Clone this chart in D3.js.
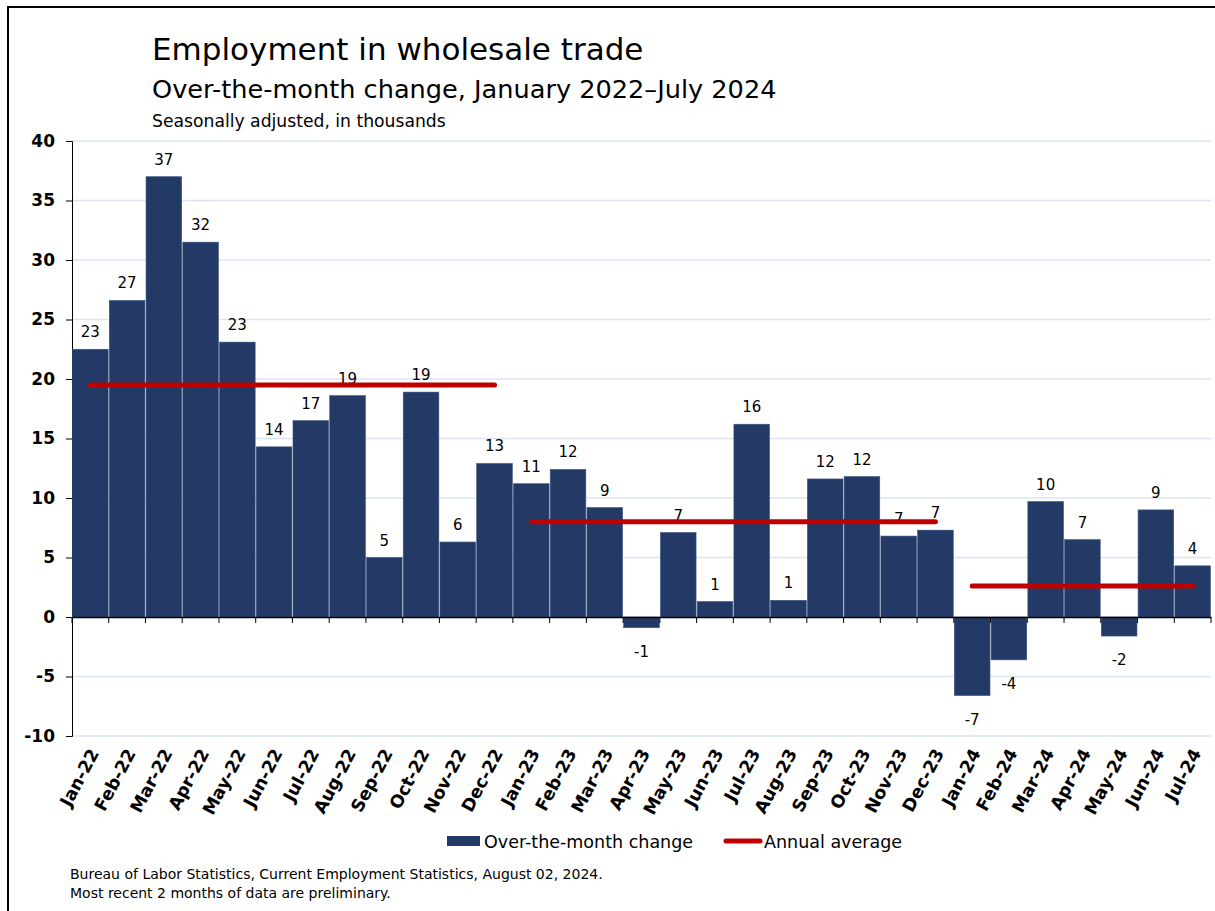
<!DOCTYPE html>
<html>
<head>
<meta charset="utf-8">
<script src="https://cdn.jsdelivr.net/npm/d3@7"></script>
<style>
  body { margin: 0; background: #fff; }
  svg { display: block; font-family: "DejaVu Sans", Verdana, sans-serif; }
  .ytick text { font-weight: bold; font-size: 17px; fill: #000; }
  .xtick text { font-weight: bold; font-size: 17.5px; fill: #000; }
  .val { font-size: 15px; fill: #000; }
</style>
</head>
<body>
<div class="container"></div>
<script>
// Data (thousands, seasonally adjusted)
var months = ["Jan-22", "Feb-22", "Mar-22", "Apr-22", "May-22", "Jun-22", "Jul-22", "Aug-22",
  "Sep-22", "Oct-22", "Nov-22", "Dec-22", "Jan-23", "Feb-23", "Mar-23", "Apr-23", "May-23",
  "Jun-23", "Jul-23", "Aug-23", "Sep-23", "Oct-23", "Nov-23", "Dec-23", "Jan-24", "Feb-24",
  "Mar-24", "Apr-24", "May-24", "Jun-24", "Jul-24"];

var changes = [22.5, 26.6, 37.0, 31.5, 23.1, 14.3, 16.5, 18.6, 5.0, 18.9, 6.3, 12.9,
  11.2, 12.4, 9.2, -0.9, 7.1, 1.3, 16.2, 1.4, 11.6, 11.8, 6.8, 7.3,
  -6.6, -3.6, 9.7, 6.5, -1.6, 9.0, 4.3];

// Annual averages: first month, last month, value
var avgStart = ["Jan-22", "Jan-23", "Jan-24"];
var avgEnd = ["Dec-22", "Dec-23", "Jul-24"];
var avgValues = [19.5, 8.0, 2.6];

var yTicks = [-10, -5, 0, 5, 10, 15, 20, 25, 30, 35, 40];

var svgWidth = 1215;
var svgHeight = 911;

var margin = { top: 141, right: 4, bottom: 175, left: 72 };
var width = svgWidth - margin.left - margin.right;
var height = svgHeight - margin.top - margin.bottom;

var barColor = "#223a65";
var lineColor = "#c00000";

var svg = d3.select(".container")
  .append("svg")
  .attr("width", svgWidth)
  .attr("height", svgHeight);

// frame
svg.append("path")
  .attr("d", "M8,911 L8,7 L1215,7")
  .attr("fill", "none")
  .attr("stroke", "#000")
  .attr("stroke-width", 2);

// titles
svg.append("text").attr("x", 152).attr("y", 60)
  .style("font-size", "31px").text("Employment in wholesale trade");
svg.append("text").attr("x", 152).attr("y", 98)
  .style("font-size", "25.6px").text("Over-the-month change, January 2022\u2013July 2024");
svg.append("text").attr("x", 152).attr("y", 127)
  .style("font-size", "17.2px").text("Seasonally adjusted, in thousands");

var chartGroup = svg.append("g")
  .attr("transform", `translate(${margin.left}, ${margin.top})`);

var x = d3.scaleBand()
  .domain(months)
  .range([0, width])
  .paddingInner(0.03)
  .paddingOuter(0.015);

var y = d3.scaleLinear()
  .domain([-10, 40])
  .range([height, 0]);

// gridlines
chartGroup.append("g")
  .selectAll("line")
  .data(yTicks.filter(d => d !== 0))
  .enter()
  .append("line")
  .attr("x1", 0)
  .attr("x2", width)
  .attr("y1", d => y(d))
  .attr("y2", d => y(d))
  .attr("stroke", "#dbe4f3")
  .attr("stroke-width", 1.5);

// y axis (plain hyphen for negatives, like the original)
var leftAxis = d3.axisLeft(y)
  .tickValues(yTicks)
  .tickFormat(d => String(d))
  .tickSize(6)
  .tickPadding(11);
chartGroup.append("g")
  .attr("class", "ytick")
  .call(leftAxis)
  .call(g => g.select(".domain").attr("stroke", "#000"))
  .selectAll("text")
  .style("font-family", "DejaVu Sans, sans-serif");

// bars
chartGroup.selectAll("rect.bar")
  .data(changes)
  .enter()
  .append("rect")
  .attr("class", "bar")
  .attr("x", (d, i) => x(months[i]))
  .attr("width", x.bandwidth())
  .attr("y", d => y(Math.max(0, d)))
  .attr("height", d => Math.abs(y(d) - y(0)))
  .attr("fill", barColor)
  .attr("stroke", "#3d5480")
  .attr("stroke-width", 0.6);

// x axis at zero
var step = x.step();
var bottomAxis = d3.axisBottom(x).tickSize(0).tickFormat("");
var xAxis = chartGroup.append("g")
  .attr("transform", `translate(0, ${y(0)})`)
  .call(bottomAxis);
xAxis.select(".domain").attr("stroke", "#000").attr("stroke-width", 1.5);

// category boundary ticks
chartGroup.append("g")
  .selectAll("line")
  .data(d3.range(months.length + 1))
  .enter()
  .append("line")
  .attr("x1", i => i * step)
  .attr("x2", i => i * step)
  .attr("y1", y(0))
  .attr("y2", y(0) + 6)
  .attr("stroke", "#000");

// month labels along the bottom
chartGroup.append("g")
  .attr("class", "xtick")
  .selectAll("text")
  .data(months)
  .enter()
  .append("text")
  .attr("text-anchor", "end")
  .attr("transform", d => `translate(${x(d) + x.bandwidth() / 2 + 9}, ${height + 17}) rotate(-62)`)
  .text(d => d);

// value labels
chartGroup.selectAll("text.val")
  .data(changes)
  .enter()
  .append("text")
  .attr("class", "val")
  .attr("text-anchor", "middle")
  .attr("x", (d, i) => x(months[i]) + x.bandwidth() / 2)
  .attr("y", d => d >= 0 ? y(d) - 12 : y(d) + 29)
  .text(d => String(Math.round(d)));

// annual average lines
chartGroup.selectAll("line.avg")
  .data(avgValues)
  .enter()
  .append("line")
  .attr("class", "avg")
  .attr("x1", (d, i) => x(avgStart[i]) + x.bandwidth() / 2)
  .attr("x2", (d, i) => x(avgEnd[i]) + x.bandwidth() / 2)
  .attr("y1", d => y(d))
  .attr("y2", d => y(d))
  .attr("stroke", lineColor)
  .attr("stroke-width", 5)
  .attr("stroke-linecap", "round");

// legend
var legend = svg.append("g").attr("transform", "translate(447, 841)");
legend.append("rect")
  .attr("x", 0).attr("y", -5).attr("width", 33).attr("height", 10)
  .attr("fill", barColor);
legend.append("text")
  .attr("x", 37).attr("y", 7)
  .style("font-size", "17.5px").text("Over-the-month change");
legend.append("line")
  .attr("x1", 279).attr("x2", 313).attr("y1", 0).attr("y2", 0)
  .attr("stroke", lineColor).attr("stroke-width", 5).attr("stroke-linecap", "round");
legend.append("text")
  .attr("x", 317).attr("y", 7)
  .style("font-size", "17.5px").text("Annual average");

// source notes
svg.append("text").attr("x", 70).attr("y", 879)
  .style("font-size", "14px")
  .text("Bureau of Labor Statistics, Current Employment Statistics, August 02, 2024.");
svg.append("text").attr("x", 70).attr("y", 898)
  .style("font-size", "14px")
  .text("Most recent 2 months of data are preliminary.");
</script>
</body>
</html>
